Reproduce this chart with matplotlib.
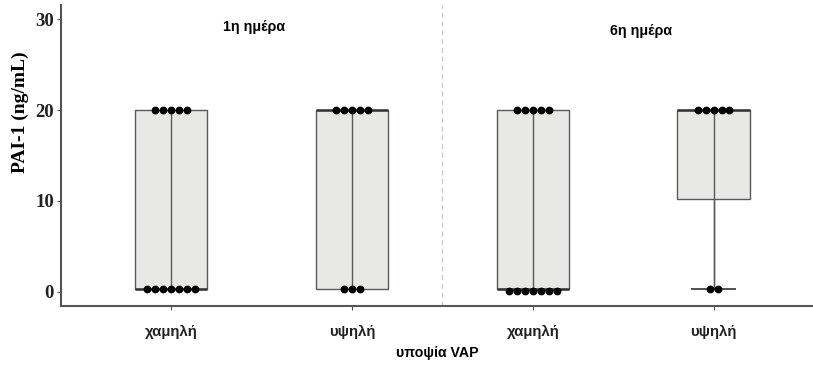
import matplotlib
matplotlib.use('Agg')
import matplotlib.pyplot as plt

# groups: 1st day low/high, 6th day low/high
categories = ['χαμηλή', 'υψηλή', 'χαμηλή', 'υψηλή']
panel_titles = ['1η ημέρα', '6η ημέρα']

# box statistics
q1 = [0.3, 0.3, 0.3, 10.2]
med = [0.3, 20.0, 0.3, 20.0]
q3 = [20.0, 20.0, 20.0, 20.0]
whislo = [0.3, 0.3, 0.3, 0.3]
whishi = [20.0, 20.0, 20.0, 20.0]

# individual observations (dot plot)
points = [
    [20] * 5 + [0.3] * 7,
    [20] * 5 + [0.3] * 3,
    [20] * 5 + [0.1] * 7,
    [20] * 5 + [0.3] * 2,
]

positions = [1, 2, 3, 4]
BOX_COLOR = '#e8e8e4'
EDGE = '#5a5a5a'


def main():
    fig = plt.figure(figsize=(8.13, 3.69), dpi=100)
    ax = fig.add_axes([0.075, 0.171, 0.925, 0.815])

    stats = []
    for i in range(len(positions)):
        stats.append(dict(q1=q1[i], med=med[i], q3=q3[i],
                          whislo=whislo[i], whishi=whishi[i], fliers=[]))
    ax.bxp(stats, positions=positions, widths=0.4, patch_artist=True,
           showcaps=False,
           boxprops=dict(facecolor=BOX_COLOR, edgecolor=EDGE, linewidth=1.0),
           medianprops=dict(color='#333333', linewidth=1.8),
           whiskerprops=dict(color=EDGE, linewidth=1.0))

    # whisker line through the box, and the lower cap where it sticks out
    for i, x in enumerate(positions):
        ax.vlines(x, whislo[i], whishi[i], color=EDGE, linewidth=1.0, zorder=3)
        if whislo[i] < q1[i]:
            ax.hlines(whislo[i], x - 0.125, x + 0.125, color='#333333', linewidth=1.2, zorder=3)

    # centred dot stacks
    spacing = 0.044
    for i, x in enumerate(positions):
        vals = points[i]
        for v in sorted(set(vals)):
            n = vals.count(v)
            xs = [x + (k - (n - 1) / 2) * spacing for k in range(n)]
            ax.plot(xs, [v] * n, 'o', color='black', markersize=4.6, zorder=4)

    ax.axvline(2.5, color='#c8c8c8', linestyle=(0, (4, 3)), linewidth=0.9)

    ax.text(1.46, 29.1, panel_titles[0], ha='center', va='center',
            fontsize=10.3, fontweight='bold', family='Liberation Sans')
    ax.text(3.6, 28.7, panel_titles[1], ha='center', va='center',
            fontsize=10.3, fontweight='bold', family='Liberation Sans')

    ax.set_xlim(0.39, 4.55)
    ax.set_ylim(-1.54, 31.54)
    ax.set_yticks([0, 10, 20, 30])
    ax.set_xticks(positions)
    ax.set_xticklabels(categories, fontsize=10.8, fontweight='bold', family='Liberation Sans')
    for lab in ax.get_yticklabels():
        lab.set_family('Liberation Serif')
        lab.set_fontweight('bold')
        lab.set_fontsize(13.5)
        lab.set_color('#222222')

    ax.set_ylabel('PAI-1 (ng/mL)', fontsize=14, fontweight='bold',
                  family='Liberation Serif')
    ax.yaxis.set_label_coords(-0.043, 0.645)
    ax.set_xlabel('υποψία VAP', fontsize=10.2, fontweight='bold',
                  family='Liberation Sans', labelpad=5)

    for side in ['top', 'right']:
        ax.spines[side].set_visible(False)
    for side in ['left', 'bottom']:
        ax.spines[side].set_color('#555555')
        ax.spines[side].set_linewidth(1.5)
    ax.tick_params(axis='both', colors='#555555', length=3, width=0.8)
    ax.tick_params(axis='x', labelcolor='#222222', pad=11)
    ax.tick_params(axis='y', labelcolor='#222222', pad=2)

    fig.savefig('out.png', dpi=100)


if __name__ == '__main__':
    main()
